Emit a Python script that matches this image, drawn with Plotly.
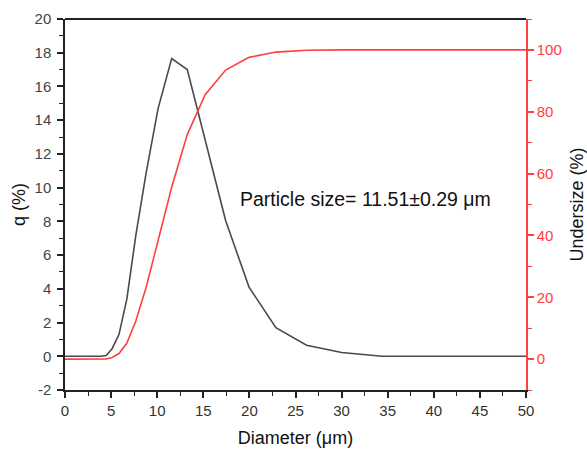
import plotly.graph_objects as go

# Data
diameter = [0, 3.89, 4.46, 5.11, 5.86, 6.71, 7.69, 8.81, 10.1, 11.57, 13.26,
            15.2, 17.42, 19.96, 22.87, 26.2, 30.0, 34.4, 39.4, 45.2, 50.0]
q_percent = [0, 0, 0.05, 0.45, 1.3, 3.4, 7.2, 10.9, 14.7, 17.65, 17.0,
             12.8, 8.05, 4.1, 1.7, 0.65, 0.22, 0, 0, 0, 0]
undersize = [0, 0, 0.05, 0.5, 1.8, 5.2, 12.4, 23.3, 38.0, 55.6, 72.6,
             85.5, 93.5, 97.6, 99.3, 99.9, 100.0, 100.0, 100.0, 100.0, 100.0]
q_ticks = [-2, 0, 2, 4, 6, 8, 10, 12, 14, 16, 18, 20]
q_ticktext = ["-2", "0", "2", "4", "6", "8", "10", "12", "14", "16", "18", "20"]
undersize_ticks = [0, 20, 40, 60, 80, 100]
annotation_text = "Particle size= 11.51±0.29 μm"

FONT = "Liberation Sans, Arial, sans-serif"
RED = "#ff4040"
DARK = "#4a4a4a"

fig = go.Figure()
fig.add_trace(go.Scatter(x=diameter, y=q_percent, mode="lines",
                         line=dict(color=DARK, width=1.6), yaxis="y",
                         showlegend=False))
fig.add_trace(go.Scatter(x=diameter, y=undersize, mode="lines",
                         line=dict(color=RED, width=1.6), yaxis="y2",
                         showlegend=False))

fig.update_layout(
    width=587, height=450,
    margin=dict(l=65, r=61, t=19, b=60),
    paper_bgcolor="white", plot_bgcolor="white",
    font=dict(family=FONT, size=15, color="#333"),
    xaxis=dict(
        range=[0, 50], dtick=5, tick0=0, automargin=False,
        showline=True, linecolor="#222", linewidth=1.5, mirror=False,
        ticks="outside", ticklen=6, tickwidth=1.5, tickcolor="#222",
        tickfont=dict(size=15, color="#333"),
        minor=dict(dtick=2.5, ticks="outside", ticklen=4, tickwidth=1.2, tickcolor="#222"),
        showgrid=False, zeroline=False,
        title=dict(text="Diameter (μm)", font=dict(size=18, color="#111"), standoff=14),
    ),
    yaxis=dict(
        range=[-2, 20], tickvals=q_ticks, ticktext=q_ticktext, automargin=False,
        showline=True, linecolor="#222", linewidth=1.5,
        ticks="outside", ticklen=6, tickwidth=1.5, tickcolor="#222",
        ticklabelstandoff=3,
        tickfont=dict(size=15, color="#444"),
        minor=dict(dtick=1, ticks="outside", ticklen=4, tickwidth=1.2, tickcolor="#222"),
        showgrid=False, zeroline=False,
        title=dict(text="q (%)", font=dict(size=18, color="#111"), standoff=4),
    ),
    yaxis2=dict(
        range=[-10, 110], tickvals=undersize_ticks, automargin=False,
        overlaying="y", side="right",
        showline=True, linecolor=RED, linewidth=1.5,
        ticks="outside", ticklen=6, tickwidth=1.5, tickcolor=RED,
        tickfont=dict(size=15, color=RED),
        minor=dict(tickvals=[-10, 10, 30, 50, 70, 90, 110], ticks="outside",
                   ticklen=4, tickwidth=1.2, tickcolor=RED),
        showgrid=False, zeroline=False,
        title=dict(text="Undersize (%)", font=dict(size=18, color="#111"), standoff=15),
    ),
    shapes=[dict(type="line", xref="paper", yref="paper", x0=0, x1=1, y0=1, y1=1,
                 line=dict(color="#222", width=2))],
    annotations=[dict(text=annotation_text, x=18.8, y=9.3, xref="x", yref="y",
                      xanchor="left", yanchor="middle", showarrow=False,
                      font=dict(size=19.5, color="#111"))],
)

fig.write_html("out.html", config={"displayModeBar": False},
               post_script="document.body.style.margin='0';")
